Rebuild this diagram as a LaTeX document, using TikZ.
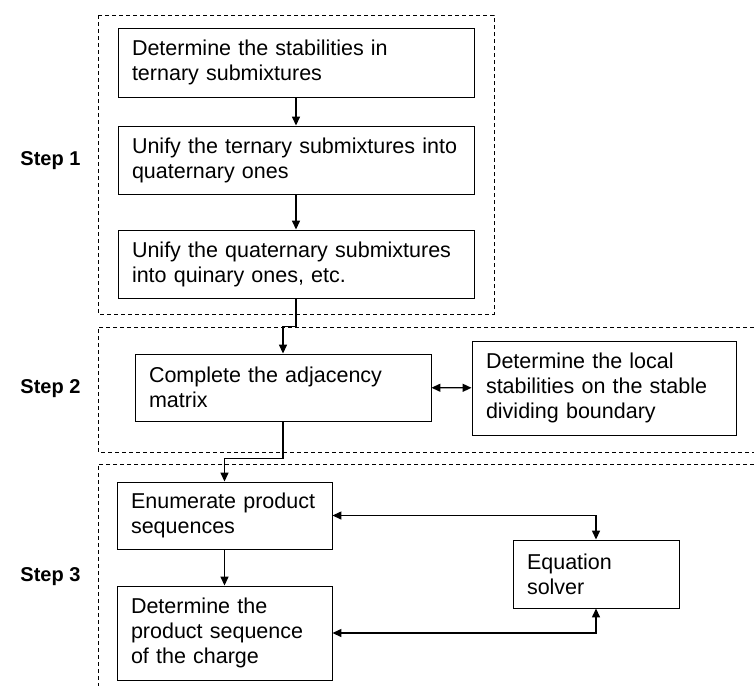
\documentclass[tikz,border=0pt]{standalone}
\usepackage{fontspec}
\setmainfont{Liberation Sans}
\usetikzlibrary{arrows.meta}

\begin{document}
\begin{tikzpicture}[x=1pt,y=-1pt,>={Triangle[length=9pt,width=8pt]},
  proc/.style={draw,line width=0.9pt,inner xsep=14pt,inner ysep=0pt,align=left,
    font=\fontsize{21.5}{25}\selectfont},
  frame/.style={line width=0.8pt,dash pattern=on 4pt off 3pt},
  flow/.style={->,line width=1.4pt},
  both/.style={<->,line width=1.4pt},
  steplabel/.style={anchor=east,font=\bfseries\fontsize{20}{24}\selectfont}]
\useasboundingbox (0,0) rectangle (754,686);

% step frames
\draw[frame] (98,15) rectangle (494,314);
\draw[frame] (754,327) -| (98,452) -- (754,452);
\draw[frame] (754,464) -| (98,686);

\node[steplabel] (step1) at (84,161) {Step 1};
\node[steplabel] (step2) at (84,389) {Step 2};
\node[steplabel] (step3) at (84,577) {Step 3};

% boxes
\node[proc,text width=328pt,minimum height=69pt] (tern)  at (296,62.5) {Determine the stabilities in\\ternary submixtures};
\node[proc,text width=328pt,minimum height=68pt] (quat)  at (296,160)  {Unify the ternary submixtures into\\quaternary ones};
\node[proc,text width=328pt,minimum height=68pt] (quin)  at (296,264)  {Unify the quaternary submixtures\\into quinary ones, etc.};
\node[proc,text width=268pt,minimum height=67pt] (adj)   at (283,387.5) {Complete the adjacency\\matrix};
\node[proc,text width=236pt,minimum height=94pt] (local) at (604,388)  {Determine the local\\stabilities on the stable\\dividing boundary};
\node[proc,text width=187pt,minimum height=67pt] (enum)  at (224.5,515.5) {Enumerate product\\sequences};
\node[proc,text width=187pt,minimum height=94pt] (charge) at (224.5,633) {Determine the\\product sequence\\of the charge};
\node[proc,text width=138pt,minimum height=68pt] (solver) at (596,574) {Equation\\solver};

% connectors
\draw[flow] (tern) -- (quat);
\draw[flow] (quat) -- (quin);
\draw[flow] (quin.south) -- ++(0,28) -| (adj.north);
\draw[flow] (adj.south) -- ++(0,37) -| (enum.north);
\draw[flow] (enum) -- (charge);
\draw[both] (adj) -- (local);
\draw[both] (enum.east) -| (solver.north);
\draw[both] (charge.east) -| (solver.south);
\end{tikzpicture}
\end{document}
